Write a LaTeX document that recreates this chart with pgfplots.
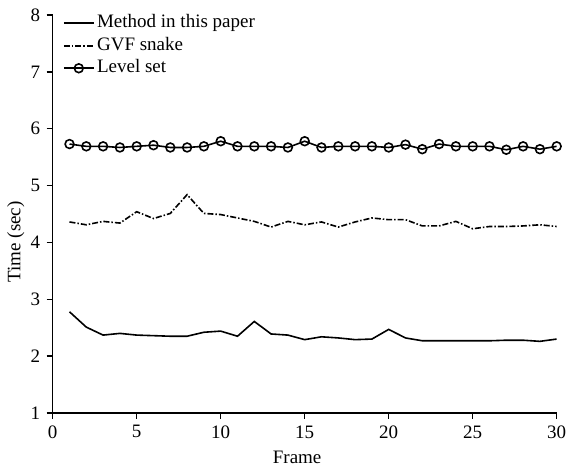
\documentclass[border=0pt]{standalone}
\usepackage{fontspec}
\setmainfont{Liberation Serif}
\usepackage{pgfplots}
\pgfplotsset{compat=1.18}
\usetikzlibrary{calc}
\pgfplotstableread{
x method gvf level
1 2.78 4.36 5.73
2 2.51 4.31 5.69
3 2.37 4.37 5.69
4 2.40 4.34 5.67
5 2.37 4.54 5.69
6 2.36 4.42 5.71
7 2.35 4.51 5.67
8 2.35 4.84 5.67
9 2.42 4.51 5.69
10 2.44 4.49 5.78
11 2.35 4.43 5.69
12 2.61 4.37 5.69
13 2.39 4.27 5.69
14 2.37 4.37 5.67
15 2.29 4.31 5.78
16 2.34 4.36 5.67
17 2.32 4.27 5.69
18 2.29 4.36 5.69
19 2.30 4.43 5.69
20 2.47 4.40 5.67
21 2.32 4.40 5.72
22 2.27 4.29 5.64
23 2.27 4.29 5.73
24 2.27 4.37 5.69
25 2.27 4.24 5.69
26 2.27 4.28 5.69
27 2.28 4.28 5.63
28 2.28 4.29 5.69
29 2.26 4.31 5.64
30 2.30 4.28 5.69
}\data
\begin{document}
\fontsize{19}{22}\selectfont
\begin{tikzpicture}[font=\fontsize{19}{22}\selectfont]
\begin{axis}[
  scale only axis, width=504pt, height=398pt,
  xmin=0, xmax=30, ymin=1, ymax=8,
  axis lines*=left,
  axis line style={line width=1.4pt},
  xtick={0,5,...,30}, ytick={1,2,...,8},
  tick align=outside, major tick length=6pt,
  tick style={line width=1.4pt, black},
  /pgf/number format/assume math mode=true,
  xticklabel style={font=\fontsize{19}{22}\selectfont},
  yticklabel style={font=\fontsize{19}{22}\selectfont},
  xlabel={Frame}, ylabel={Time (sec)},
  xlabel style={at={(axis description cs:0.485,0)}, anchor=base, inner sep=0pt, yshift=-51pt},
  ylabel style={at={(axis description cs:-0.073,0.43)}, anchor=center, inner sep=0pt},
  legend style={at={(axis description cs:0.02,1.008)}, anchor=north west, draw=none, fill=none,
    font=\fontsize{19}{22}\selectfont, row sep=0pt, inner sep=0pt,
    nodes={inner sep=2.5pt, text height=13pt, text depth=4.5pt}},
  legend cell align=left,
  legend image code/.code={\draw[mark repeat=2,mark phase=2,#1] plot coordinates {(0pt,0pt) (15pt,0pt) (30pt,0pt)};},
]
\addplot[black, line width=1.6pt] table[x=x,y=method] {\data};
\addlegendentry{Method in this paper}
\addplot[black, line width=1.6pt, dash pattern=on 6pt off 2pt on 1.5pt off 2pt] table[x=x,y=gvf] {\data};
\addlegendentry{GVF snake}
\addplot[black, line width=1.6pt, mark=o, mark size=4.4pt, mark options={fill=white, solid, line width=1.6pt}] table[x=x,y=level] {\data};
\addlegendentry{Level set}
\end{axis}
\pgfresetboundingbox
\useasboundingbox ($(current axis.south west)+(-52.7pt,-55pt)$) rectangle ($(current axis.north east)+(11.3pt,15pt)$);
\end{tikzpicture}
\end{document}
